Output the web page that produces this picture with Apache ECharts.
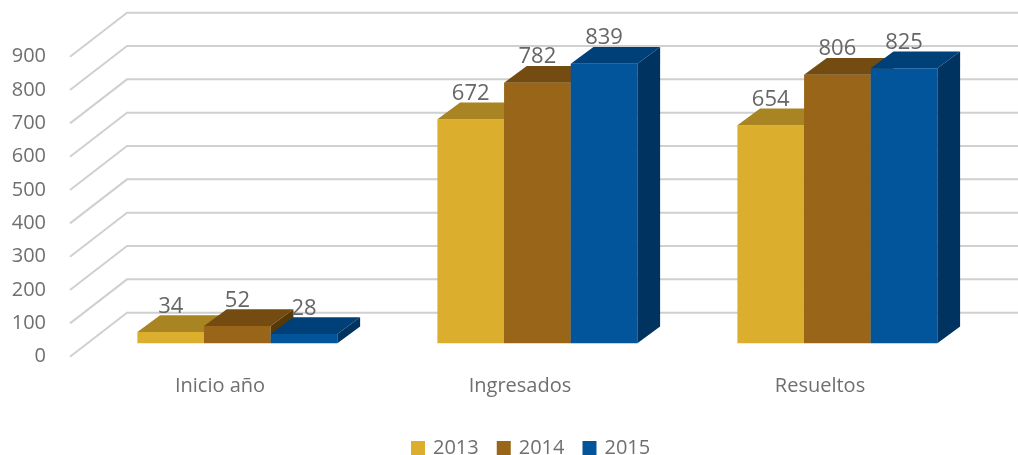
<!DOCTYPE html>
<html>
<head>
<meta charset="utf-8">
<script src="https://cdn.jsdelivr.net/npm/echarts@6/dist/echarts.min.js"></script>
<style>
  html, body { margin: 0; padding: 0; background: #fff; }
  #chart { width: 1018px; height: 455px; }
</style>
</head>
<body>
<div id="chart"></div>
<script>
// datos
const categories = ["Inicio año", "Ingresados", "Resueltos"];
const years = ["2013", "2014", "2015"];
const v2013 = [34, 672, 654];
const v2014 = [52, 782, 806];
const v2015 = [28, 839, 825];
const ticks = [0, 100, 200, 300, 400, 500, 600, 700, 800, 900];

// colores: frente, tapa, lateral
const colors = [
  ["#dbae2d", "#a88522", "#7d6318"],
  ["#996518", "#744c12", "#563809"],
  ["#02559b", "#004078", "#00335f"]
];

// perspectiva (px)
const WALL_DX = 57, WALL_DY = -44;
const FRONT_DX = 17.4, FRONT_DY = -13.4;
const DEPTH_DX = 22.7, DEPTH_DY = -16.7;
const FONT = "'Open Sans', sans-serif";

let myChart = echarts.init(document.getElementById("chart"));

function wallItem(params, api) {
  const y = api.coord([0, api.value(1)])[1];
  const x0 = params.coordSys.x;
  return {
    type: "polyline",
    shape: { points: [[x0, y], [x0 + WALL_DX, y + WALL_DY], [api.getWidth(), y + WALL_DY]] },
    style: { stroke: "#d0d0d0", lineWidth: 2, fill: null }
  };
}

function barItem(idx) {
  const c = colors[idx];
  return function (params, api) {
    const base = api.coord([api.value(0), 0]);
    const band = api.size([1, 0])[0];
    const w = band * 2 / 9;
    const v = api.value(1);
    const top = api.coord([api.value(0), v])[1];
    const x0 = base[0] + FRONT_DX - band / 3 + idx * w;
    const yb = base[1] + FRONT_DY;
    const yt = top + FRONT_DY;
    return {
      type: "group",
      children: [
        { type: "rect", shape: { x: x0, y: yt, width: w, height: yb - yt }, style: { fill: c[0] } },
        { type: "polygon", shape: { points: [[x0, yt], [x0 + w, yt], [x0 + w + DEPTH_DX, yt + DEPTH_DY], [x0 + DEPTH_DX, yt + DEPTH_DY]] }, style: { fill: c[1] } },
        { type: "polygon", shape: { points: [[x0 + w, yt], [x0 + w + DEPTH_DX, yt + DEPTH_DY], [x0 + w + DEPTH_DX, yb + DEPTH_DY], [x0 + w, yb]] }, style: { fill: c[2] } },
        { type: "text", x: x0 + w / 2, y: yt + DEPTH_DY - 9,
          style: { text: String(v), fill: "#666666", font: "22px " + FONT, align: "center", verticalAlign: "middle" } }
      ]
    };
  };
}

const seriesData = [v2013, v2014, v2015];
const series = [{
  name: "grid",
  type: "custom",
  renderItem: wallItem,
  data: ticks.map(t => [0, t]),
  silent: true,
  z: 1
}];
years.forEach((yr, i) => {
  series.push({
    name: yr,
    type: "custom",
    renderItem: barItem(i),
    itemStyle: { color: colors[i][0] },
    data: seriesData[i].map((v, k) => [k, v]),
    z: 2
  });
});

myChart.setOption({
  animation: false,
  grid: { left: 70, right: 48, top: 56.7, bottom: 98.3 },
  xAxis: {
    type: "category",
    data: categories,
    axisLine: { show: false },
    axisTick: { show: false },
    axisLabel: { margin: 20, fontSize: 20, color: "#6f6f6f", fontFamily: FONT }
  },
  yAxis: {
    type: "value",
    min: 0,
    max: 900,
    interval: 100,
    axisLine: { show: false },
    axisTick: { show: false },
    splitLine: { show: false },
    axisLabel: { margin: 24, fontSize: 20, color: "#6f6f6f", fontFamily: FONT }
  },
  legend: {
    data: years,
    left: 406,
    top: 433,
    icon: "rect",
    itemWidth: 14,
    itemHeight: 14,
    itemGap: 18,
    textStyle: { fontSize: 20, color: "#6f6f6f", fontFamily: FONT, padding: [0, 0, 0, 3] }
  },
  series: series
});
</script>
</body>
</html>
